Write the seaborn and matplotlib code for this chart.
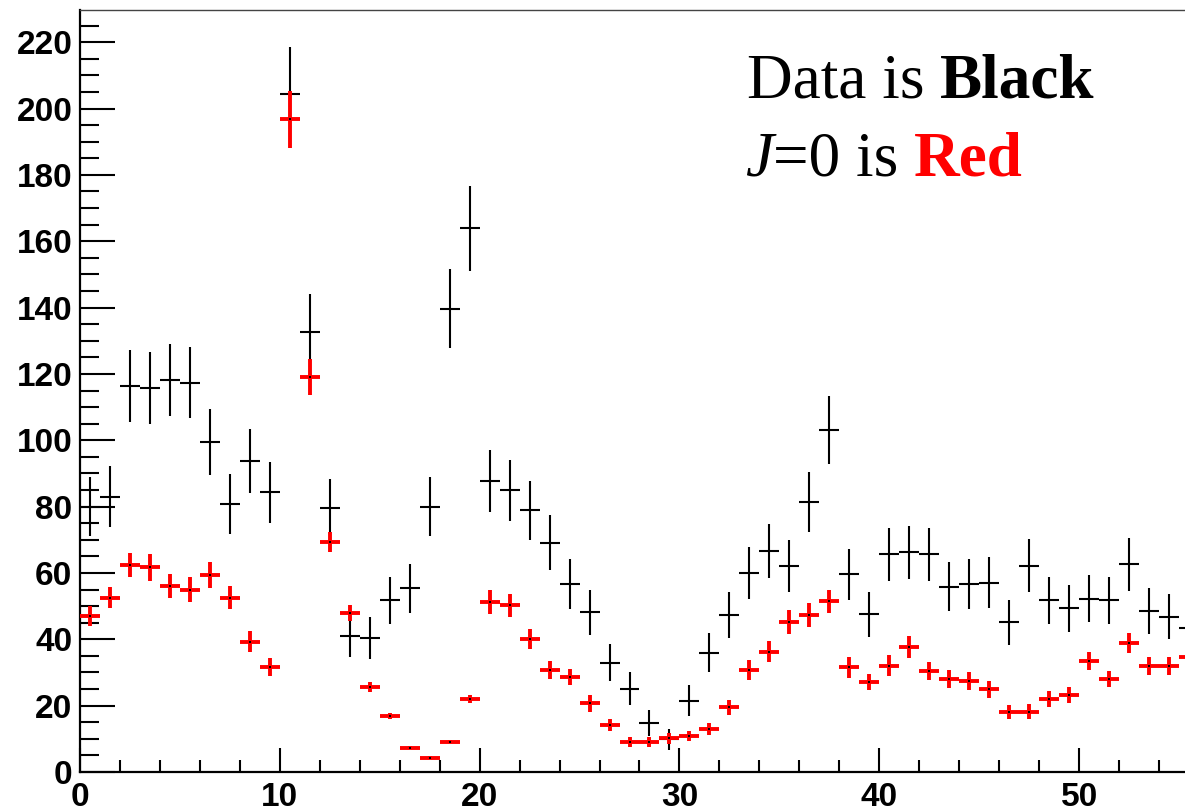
import numpy as np
import matplotlib
matplotlib.use("Agg")
import matplotlib.pyplot as plt
import seaborn as sns
import pandas as pd
from matplotlib.ticker import MultipleLocator

# ---- data ----
bin_centers = [i + 0.5 for i in range(56)]
data_counts = [80, 83, 116.3, 115.8, 118.1, 117.4, 99.4, 80.7, 93.8, 84.3,
               204.3, 132.6, 79.5, 41, 40.3, 51.7, 55.4, 80, 139.7, 163.9,
               87.8, 84.9, 78.9, 69.1, 56.6, 48.1, 33, 25.1, 14.9, 9.8,
               21.5, 36, 47.4, 60.1, 66.7, 62.1, 81.3, 103.1, 59.6, 47.5,
               65.6, 66.2, 65.6, 55.9, 56.6, 57.1, 45.1, 62.2, 51.7, 49.3,
               52.3, 51.7, 62.6, 48.6, 46.8, 43.3]
data_err = [8.9, 9.1, 10.8, 10.8, 10.9, 10.8, 10.0, 9.0, 9.7, 9.2,
            14.3, 11.5, 8.9, 6.4, 6.3, 7.2, 7.4, 8.9, 11.8, 12.8,
            9.4, 9.2, 8.9, 8.3, 7.5, 6.9, 5.7, 5.0, 3.9, 3.1,
            4.6, 6.0, 6.9, 7.8, 8.2, 7.9, 9.0, 10.2, 7.7, 6.9,
            8.1, 8.1, 8.1, 7.5, 7.5, 7.6, 6.7, 7.9, 7.2, 7.0,
            7.2, 7.2, 7.9, 7.0, 6.8, 6.6]
j0_counts = [47.1, 52.6, 62.4, 61.7, 56.2, 55.0, 59.4, 52.6, 39.3, 31.6,
             196.8, 119.0, 69.4, 47.8, 25.5, 17.0, 7.3, 4.3, 9.1, 21.9,
             51.3, 50.3, 40.0, 30.7, 28.6, 20.7, 14.2, 9.1, 9.1, 10.1,
             10.8, 12.9, 19.5, 30.7, 36.3, 45.3, 47.3, 51.4, 31.6, 27.2,
             32.0, 37.7, 30.4, 27.9, 27.4, 24.9, 18.2, 18.2, 21.9, 23.2,
             33.4, 27.9, 38.8, 32.0, 32.0, 34.8]
j0_err = [3.0, 3.3, 3.5, 4.1, 3.6, 3.8, 3.9, 3.6, 3.2, 2.7,
          8.6, 5.4, 3.0, 2.4, 1.5, 0.9, 0.5, 0.4, 0.5, 1.2,
          3.6, 3.5, 3.0, 2.8, 2.5, 2.5, 1.8, 1.5, 1.5, 1.6,
          1.5, 1.8, 2.2, 3.1, 3.1, 3.6, 3.6, 3.6, 3.2, 2.4,
          3.2, 3.4, 2.8, 2.7, 2.7, 2.5, 2.1, 2.3, 2.4, 2.5,
          2.7, 2.4, 3.0, 2.8, 2.8, 2.8]
bin_halfwidth = 0.5

sns.set_style("ticks")
plt.rcParams['font.family'] = ['Liberation Sans', 'DejaVu Sans']
plt.rcParams['text.color'] = 'black'
plt.rcParams['xtick.color'] = 'black'
plt.rcParams['ytick.color'] = 'black'

W, H = 1185, 811
fig = plt.figure(figsize=(W / 100, H / 100), dpi=100)
ax = fig.add_axes([80 / W, (H - 772) / H, (W - 80) / W, 762 / H])

df_data = pd.DataFrame({"x": bin_centers, "y": data_counts})
df_j0 = pd.DataFrame({"x": bin_centers, "y": j0_counts})

# data (black)
eb1 = ax.errorbar(df_data["x"], df_data["y"], yerr=data_err, xerr=bin_halfwidth,
                  fmt='none', ecolor='black', elinewidth=1.5, capsize=0, zorder=2)
for c in eb1[2]:
    c.set_capstyle('butt')

# J=0 (red)
eb2 = ax.errorbar(df_j0["x"], df_j0["y"], yerr=j0_err, xerr=bin_halfwidth,
                  fmt='none', ecolor='#ff0000', elinewidth=2.8, capsize=0, zorder=3)
for c in eb2[2]:
    c.set_capstyle('butt')
sns.scatterplot(data=df_j0, x="x", y="y", ax=ax, color='black', s=3,
                marker='s', linewidth=0, zorder=4, legend=False)

ax.set_xlim(0, 55.3)
ax.set_ylim(0, 229.7)
ax.set_xlabel("")
ax.set_ylabel("")

ax.xaxis.set_major_locator(MultipleLocator(10))
ax.xaxis.set_minor_locator(MultipleLocator(2))
ax.yaxis.set_major_locator(MultipleLocator(20))
ax.yaxis.set_minor_locator(MultipleLocator(5))

ax.tick_params(axis='y', which='major', direction='in', length=25, width=1.5, pad=5.5,
               labelsize=24, labelcolor='black', color='black')
ax.tick_params(axis='y', which='minor', direction='in', length=13.5, width=1.5, color='black')
ax.tick_params(axis='x', which='major', direction='in', length=17, width=1.5, pad=7,
               labelsize=24, labelcolor='black', color='black')
ax.tick_params(axis='x', which='minor', direction='in', length=8.6, width=1.5, color='black')
for lab in ax.get_xticklabels() + ax.get_yticklabels():
    lab.set_fontweight('bold')

ax.spines['right'].set_visible(False)
ax.spines['left'].set_linewidth(1.6)
ax.spines['bottom'].set_linewidth(1.6)
ax.spines['left'].set_color('black')
ax.spines['bottom'].set_color('black')
ax.spines['top'].set_linewidth(1.0)
ax.spines['top'].set_color('#444444')

# ---- annotation text ----
serif = ['Liberation Serif', 'DejaVu Serif']
fs = 45.5
fig.canvas.draw()
renderer = fig.canvas.get_renderer()


def put_pieces(x_px, base_px, pieces):
    x = x_px
    for txt, kw in pieces:
        kw = dict(kw)
        kw.setdefault('color', 'black')
        t = fig.text(x / W, (H - base_px) / H, txt, fontsize=fs, family=serif,
                     va='baseline', ha='left', **kw)
        bb = t.get_window_extent(renderer=renderer)
        x = x + bb.width


put_pieces(747, 98, [("Data is ", {}), ("Black", {"fontweight": "bold"})])
put_pieces(745, 176, [("J", {"style": "italic"}), ("=0 is ", {}),
                      ("Red", {"fontweight": "bold", "color": "#ff0000"})])

fig.savefig("out.png", dpi=100)
